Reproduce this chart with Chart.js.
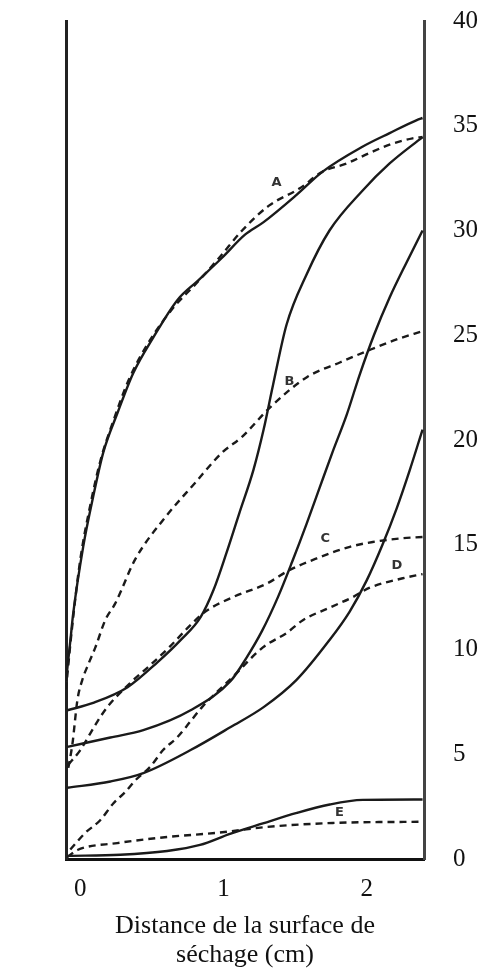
<!DOCTYPE html>
<html>
<head>
<meta charset="utf-8">
<script src="https://cdn.jsdelivr.net/npm/chart.js@4.4.1/dist/chart.umd.min.js"></script>
<style>
  html, body { margin: 0; padding: 0; background: #fff; }
  #wrap { width: 481px; height: 974px; position: relative; }
</style>
</head>
<body>
<div id="wrap"><canvas id="c"></canvas></div>
<script>
// ---- Data (x: distance in cm, y: value) ----
const X_TICKS = [0, 1, 2];
const Y_TICKS = [0, 5, 10, 15, 20, 25, 30, 35, 40];
const X_TITLE = ['Distance de la surface de', 'séchage (cm)'];

// Curve A (solid)
const aSolidX = [-0.10, -0.07, -0.05, 0.02, 0.09, 0.16, 0.26, 0.37, 0.51, 0.68, 0.82, 0.99, 1.15, 1.28, 1.51, 1.69, 1.97, 2.16, 2.35, 2.39];
const aSolidY = [8.5, 10.4, 11.7, 14.9, 17.3, 19.4, 21.3, 23.2, 24.9, 26.7, 27.6, 28.7, 29.8, 30.4, 31.7, 32.8, 34.0, 34.65, 35.27, 35.37];
// Curve A (dashed)
const aDashX = [-0.10, -0.06, 0.00, 0.07, 0.14, 0.23, 0.34, 0.49, 0.66, 0.80, 0.97, 1.13, 1.32, 1.53, 1.69, 1.86, 2.02, 2.16, 2.32, 2.39];
const aDashY = [8.1, 10.9, 14.3, 16.9, 19.0, 20.9, 22.9, 24.8, 26.4, 27.4, 28.7, 30.0, 31.2, 32.0, 32.8, 33.2, 33.7, 34.1, 34.4, 34.46];
// Curve B (solid, S-shaped)
const bSolidX = [-0.09, 0.09, 0.33, 0.54, 0.70, 0.84, 0.93, 1.02, 1.11, 1.21, 1.28, 1.345, 1.44, 1.58, 1.74, 1.97, 2.16, 2.39];
const bSolidY = [7.1, 7.45, 8.2, 9.4, 10.45, 11.55, 12.84, 14.6, 16.5, 18.6, 20.5, 22.6, 25.5, 27.9, 30.0, 31.9, 33.2, 34.46];
// Curve B (dashed)
const bDashX = [-0.084, -0.056, -0.02, 0.014, 0.056, 0.105, 0.174, 0.244, 0.383, 0.592, 0.801, 0.990, 1.129, 1.324, 1.582, 1.812, 2.021, 2.209, 2.39];
const bDashY = [4.35, 5.45, 7.6, 8.55, 9.3, 10.1, 11.4, 12.2, 14.3, 16.3, 17.95, 19.4, 20.15, 21.55, 23.0, 23.7, 24.3, 24.8, 25.2];
// Curve C (solid)
const cSolidX = [-0.09, 0.21, 0.44, 0.77, 1.05, 1.16, 1.27, 1.38, 1.48, 1.58, 1.67, 1.76, 1.86, 1.95, 2.05, 2.16, 2.28, 2.39];
const cSolidY = [5.35, 5.8, 6.15, 7.1, 8.5, 9.6, 10.9, 12.5, 14.2, 16.0, 17.7, 19.4, 21.2, 23.1, 25.0, 26.8, 28.5, 30.0];
// Curve C (dashed)
const cDashX = [-0.084, 0.0, 0.07, 0.118, 0.188, 0.348, 0.488, 0.627, 0.767, 0.871, 1.066, 1.303, 1.463, 1.652, 1.882, 2.042, 2.23, 2.39];
const cDashY = [4.5, 5.2, 6.0, 6.55, 7.25, 8.4, 9.25, 10.15, 11.15, 11.8, 12.5, 13.15, 13.8, 14.35, 14.9, 15.13, 15.3, 15.37];
// Curve D (solid)
const dSolidX = [-0.09, 0.21, 0.44, 0.77, 1.05, 1.28, 1.51, 1.74, 1.88, 2.00, 2.11, 2.21, 2.30, 2.39];
const dSolidY = [3.4, 3.7, 4.1, 5.2, 6.3, 7.25, 8.55, 10.45, 11.8, 13.3, 15.0, 16.75, 18.55, 20.5];
// Curve D (dashed)
const dDashX = [-0.07, 0.035, 0.139, 0.230, 0.314, 0.383, 0.488, 0.578, 0.676, 0.767, 0.850, 1.066, 1.275, 1.443, 1.554, 1.742, 1.902, 2.021, 2.251, 2.39];
const dDashY = [0.45, 1.25, 1.85, 2.65, 3.2, 3.75, 4.4, 5.2, 5.8, 6.55, 7.25, 8.7, 10.1, 10.8, 11.4, 12.0, 12.5, 12.95, 13.4, 13.6];
// Curve E (solid)
const eSolidX = [-0.09, 0.279, 0.606, 0.836, 1.045, 1.275, 1.512, 1.742, 1.972, 2.39];
const eSolidY = [0.15, 0.2, 0.38, 0.67, 1.2, 1.7, 2.2, 2.6, 2.82, 2.84];
// Curve E (dashed)
const eDashX = [-0.09, -0.02, 0.258, 0.606, 0.955, 1.303, 1.763, 2.39];
const eDashY = [0.1, 0.43, 0.76, 1.05, 1.25, 1.53, 1.72, 1.78];

// Curve letters
const LETTERS = ['A', 'B', 'C', 'D', 'E'];
const LETTER_X = [1.37, 1.46, 1.71, 2.21, 1.81];
const LETTER_Y = [32.3, 22.8, 15.3, 14.0, 2.2];

// ---- build datasets ----
const INK = '#1a1a1a';
function pts(xs, ys) { return xs.map((x, i) => ({ x: x, y: ys[i] })); }
function ds(xs, ys, dashed) {
  return {
    data: pts(xs, ys),
    borderColor: INK,
    borderWidth: 2.4,
    borderDash: dashed ? [7, 5] : [],
    pointRadius: 0,
    fill: false,
    cubicInterpolationMode: 'monotone',
    tension: 0.4
  };
}
const datasets = [
  ds(aSolidX, aSolidY, false), ds(aDashX, aDashY, true),
  ds(bSolidX, bSolidY, false), ds(bDashX, bDashY, true),
  ds(cSolidX, cSolidY, false), ds(cDashX, cDashY, true),
  ds(dSolidX, dSolidY, false), ds(dDashX, dDashY, true),
  ds(eSolidX, eSolidY, false), ds(eDashX, eDashY, true)
];

const letterPlugin = {
  id: 'letters',
  afterDatasetsDraw(chart) {
    const ctx = chart.ctx, xs = chart.scales.x, ys = chart.scales.y;
    ctx.save();
    ctx.fillStyle = '#333';
    ctx.font = 'bold 13px "DejaVu Sans", sans-serif';
    ctx.textAlign = 'center';
    ctx.textBaseline = 'middle';
    LETTERS.forEach((t, i) => {
      ctx.fillText(t, xs.getPixelForValue(LETTER_X[i]), ys.getPixelForValue(LETTER_Y[i]));
    });
    ctx.restore();
  }
};

const SERIF = '"Liberation Serif", "Times New Roman", serif';

new Chart(document.getElementById('c'), {
  type: 'line',
  data: { datasets: datasets },
  plugins: [letterPlugin],
  options: {
    responsive: true,
    maintainAspectRatio: false,
    animation: false,
    layout: { padding: { left: 66, top: 21, right: 0, bottom: 0 } },
    plugins: { legend: { display: false }, tooltip: { enabled: false } },
    scales: {
      x: {
        type: 'linear',
        position: 'bottom',
        min: -0.1,
        max: 2.4,
        afterBuildTicks: (s) => { s.ticks = X_TICKS.map(v => ({ value: v })); },
        afterFit: (s) => { s.height = 115; s.paddingLeft = 0; s.paddingRight = 0; },
        grid: { display: false, drawTicks: false },
        border: { display: true, color: '#111', width: 3 },
        ticks: { color: '#111', font: { family: SERIF, size: 25 }, padding: 15, maxRotation: 0 },
        title: {
          display: true,
          text: X_TITLE,
          color: '#111',
          font: { family: SERIF, size: 26, lineHeight: 1.12 },
          padding: { top: 0, bottom: 4 }
        }
      },
      y: {
        type: 'linear',
        position: 'right',
        min: 0,
        max: 40,
        afterBuildTicks: (s) => { s.ticks = Y_TICKS.map(v => ({ value: v })); },
        afterFit: (s) => { s.width = 57; s.paddingTop = 0; s.paddingBottom = 0; },
        grid: { display: false, drawTicks: false },
        border: { display: true, color: '#444', width: 3 },
        ticks: { color: '#111', font: { family: SERIF, size: 25 }, padding: 29 }
      },
      yl: {
        type: 'linear',
        position: 'left',
        min: 0,
        max: 40,
        afterFit: (s) => { s.width = 0; s.paddingTop = 0; s.paddingBottom = 0; },
        grid: { display: false, drawTicks: false },
        border: { display: true, color: '#222', width: 3 },
        ticks: { display: false }
      }
    }
  }
});
</script>
</body>
</html>
